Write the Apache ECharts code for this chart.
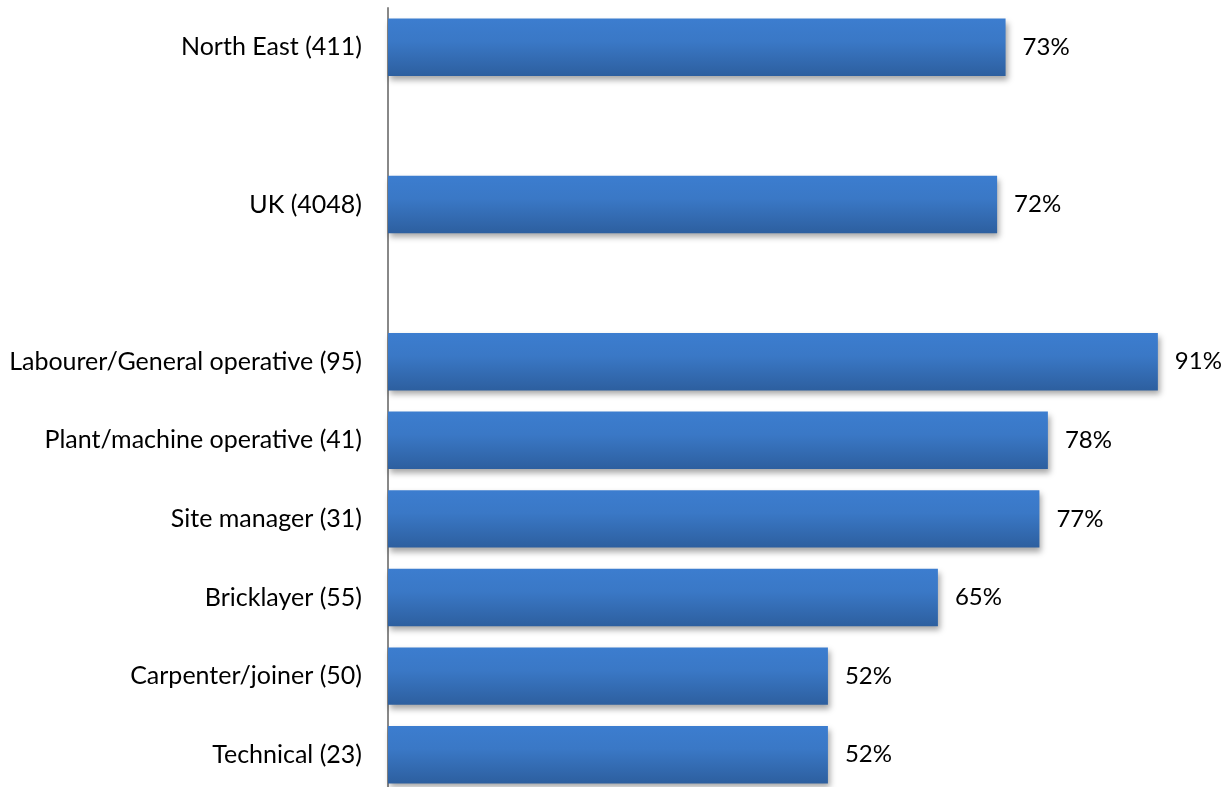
<!DOCTYPE html>
<html>
<head>
<meta charset="utf-8">
<script src="https://cdn.jsdelivr.net/npm/echarts@6/dist/echarts.min.js"></script>
<style>
  html, body { margin: 0; padding: 0; background: #fff; }
  #chart { width: 1231px; height: 787px; }
</style>
</head>
<body>
<div id="chart"></div>
<script>
// categories, blank slots keep the gaps between groups
var categories = ['North East (411)', ' ', 'UK (4048)', '  ', 'Labourer/General operative (95)',
  'Plant/machine operative (41)', 'Site manager (31)', 'Bricklayer (55)', 'Carpenter/joiner (50)', 'Technical (23)'];
var percentValues = [73, '-', 72, '-', 91, 78, 77, 65, 52, 52];

var chart = echarts.init(document.getElementById('chart'));

var option = {
  animation: false,
  grid: {
    left: 388,
    top: 8,
    width: 846,
    height: 786,
    outerBoundsMode: 'none',
    containLabel: false
  },
  xAxis: {
    type: 'value',
    min: 0,
    max: 100,
    show: false,
    splitLine: { show: false }
  },
  yAxis: {
    type: 'category',
    inverse: true,
    data: categories,
    axisLine: { show: true, lineStyle: { color: '#888', width: 2 } },
    axisTick: { show: false },
    axisLabel: {
      margin: 26,
      fontFamily: 'Lato',
      fontSize: 25,
      color: '#000'
    }
  },
  series: [{
    type: 'bar',
    data: percentValues,
    barCategoryGap: '27%',
    itemStyle: {
      color: new echarts.graphic.LinearGradient(0, 0, 0, 1, [
        { offset: 0, color: '#3c7dcf' },
        { offset: 0.4, color: '#3a78c6' },
        { offset: 1, color: '#2d5f9f' }
      ]),
      shadowBlur: 6,
      shadowColor: 'rgba(0,0,0,0.35)',
      shadowOffsetX: 2,
      shadowOffsetY: 4
    },
    label: {
      show: true,
      position: 'right',
      distance: 17,
      formatter: '{c}%',
      fontFamily: 'Lato',
      fontSize: 24,
      color: '#000'
    }
  }]
};
chart.setOption(option);
</script>
</body>
</html>
